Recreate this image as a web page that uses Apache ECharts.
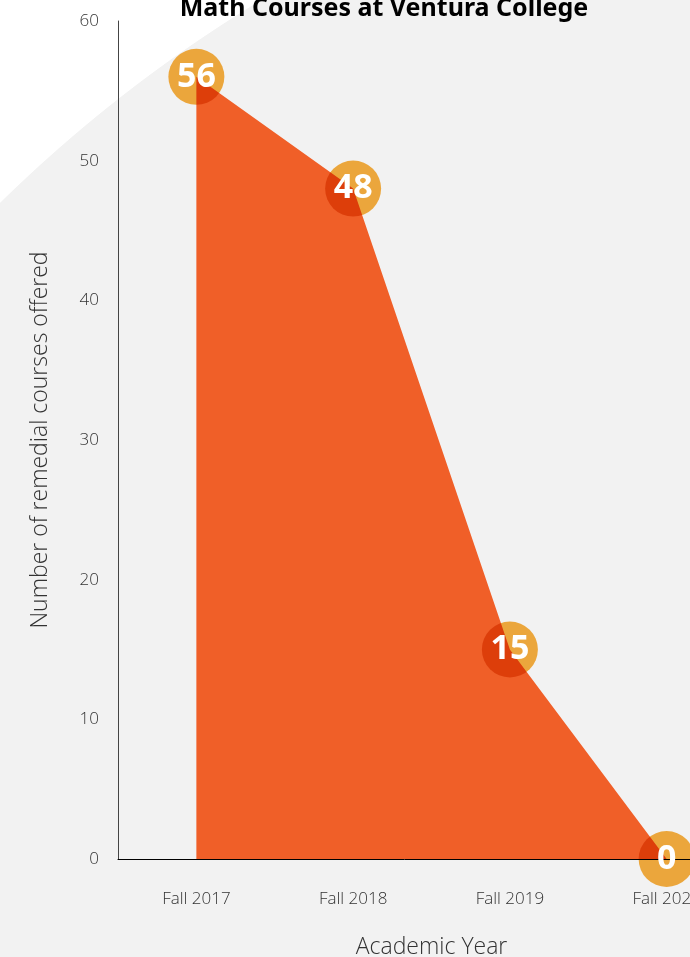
<!DOCTYPE html>
<html>
<head>
<meta charset="utf-8">
<script src="https://cdn.jsdelivr.net/npm/echarts@6/dist/echarts.min.js"></script>
<style>
html,body{margin:0;padding:0;}
#chart{width:690px;height:957px;background:radial-gradient(circle 1426px at 999px 1220px,#f2f2f2 99.95%,#ffffff 100%);}
</style>
</head>
<body>
<div id="chart"></div>
<script>
var categories = ['Fall 2017', 'Fall 2018', 'Fall 2019', 'Fall 2020'];
var courses = [56, 48, 15, 0];
var yTicks = [0, 10, 20, 30, 40, 50, 60];

var chart = echarts.init(document.getElementById('chart'), null, {renderer: 'canvas'});
var lightFont = '"Open Sans", "Noto Sans", sans-serif';
chart.setOption({
  animation: false,
  title: {
    text: 'Math Courses at Ventura College',
    left: 379,
    textAlign: 'center',
    top: -9,
    textStyle: {fontFamily: '"Noto Sans", "Open Sans", sans-serif', fontWeight: 'bold', fontSize: 25, color: '#000'}
  },
  grid: {left: 118, top: 21, bottom: 98, right: -55, containLabel: false, outerBoundsMode: 'none'},
  xAxis: {
    type: 'category',
    data: categories,
    boundaryGap: true,
    axisLine: {lineStyle: {color: '#000', width: 1}},
    axisTick: {show: false},
    axisLabel: {margin: 32, fontSize: 17, color: '#333', fontFamily: lightFont, fontWeight: 300},
    name: 'Academic Year',
    nameLocation: 'middle',
    nameGap: 77,
    nameTextStyle: {fontSize: 23, color: '#333', fontFamily: lightFont, fontWeight: 300}
  },
  yAxis: {
    type: 'value',
    min: yTicks[0],
    max: yTicks[yTicks.length - 1],
    interval: 10,
    axisLine: {show: true, lineStyle: {color: '#444', width: 1}},
    axisTick: {show: false},
    splitLine: {show: false},
    axisLabel: {margin: 19, fontSize: 17, color: '#333', fontFamily: lightFont, fontWeight: 300},
    name: 'Number of remedial courses offered',
    nameLocation: 'middle',
    nameGap: 66,
    nameTextStyle: {fontSize: 23, color: '#333', fontFamily: lightFont, fontWeight: 300}
  },
  series: [
    {
      type: 'line',
      data: courses,
      symbol: 'none',
      lineStyle: {width: 0, color: '#f05f28'},
      areaStyle: {color: '#f05f28', opacity: 1},
      z: 2
    },
    {
      type: 'scatter',
      data: courses,
      symbolSize: 56,
      itemStyle: {color: '#eba63c', opacity: 1},
      blendMode: 'multiply',
      z: 3
    },
    {
      type: 'scatter',
      data: courses,
      symbolSize: 56,
      itemStyle: {color: 'rgba(0,0,0,0)', opacity: 1},
      label: {
        show: true,
        position: 'inside',
        formatter: function (p) { return String(p.value); },
        color: '#fff',
        fontSize: 34,
        fontWeight: 'bold',
        fontFamily: '"Noto Sans", "Open Sans", sans-serif'
      },
      z: 5
    }
  ]
});
</script>
</body>
</html>
